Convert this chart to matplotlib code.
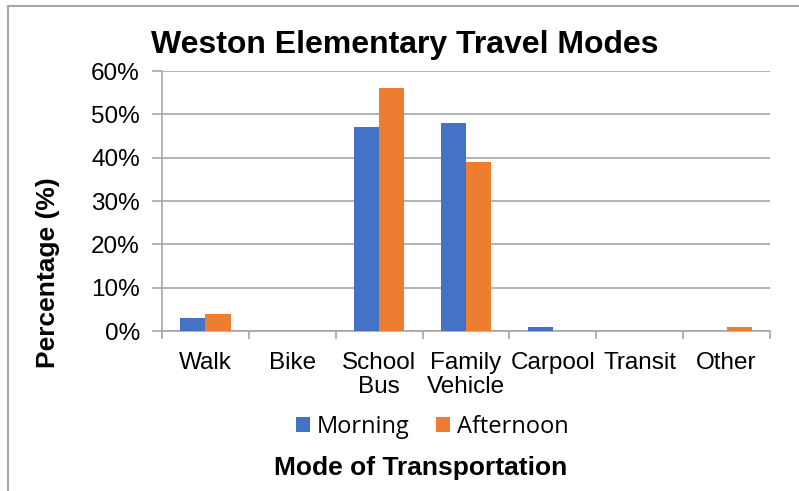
import numpy as np
import matplotlib.pyplot as plt
from matplotlib.lines import Line2D
from matplotlib.ticker import FuncFormatter

categories = ["Walk", "Bike", "School\nBus", "Family\nVehicle", "Carpool", "Transit", "Other"]
morning = [3, 0, 47, 48, 1, 0, 0]
afternoon = [4, 0, 56, 39, 0, 0, 1]

BLUE = "#4472C4"
ORANGE = "#ED7D31"
GRAY = "#A6A6A6"

plt.rcParams['font.family'] = ['Liberation Sans', 'DejaVu Sans']

fig = plt.figure(figsize=(7.99, 4.91), dpi=100)
ax = fig.add_axes([162/799, 1 - 331/491, 608/799, 260/491])

x = np.arange(len(categories))
w = 0.29
ax.bar(x - w/2, morning, w, color=BLUE, label="Morning", zorder=3)
ax.bar(x + w/2, afternoon, w, color=ORANGE, label="Afternoon", zorder=3)

ax.set_xlim(-0.5, len(categories) - 0.5)
ax.set_ylim(0, 60)
ax.set_yticks(range(0, 61, 10))
ax.yaxis.set_major_formatter(FuncFormatter(lambda v, p: "%d%%" % v))
ax.grid(axis="y", color=GRAY, linewidth=1.2, zorder=0)

# ticks between categories, labels centred on each group
ax.set_xticks(np.arange(-0.5, len(categories), 1))
ax.set_xticklabels([])
ax.set_xticks(x, minor=True)
ax.set_xticklabels(categories, minor=True, fontsize=17.5, linespacing=1.12)
ax.tick_params(axis="x", which="minor", length=0, pad=15)
ax.tick_params(axis="x", which="major", length=6, color=GRAY, width=1.2)
ax.tick_params(axis="y", length=7, color=GRAY, width=1.2, labelsize=17.5, pad=9)

for s in ["top", "right"]:
    ax.spines[s].set_visible(False)
for s in ["left", "bottom"]:
    ax.spines[s].set_color(GRAY)
    ax.spines[s].set_linewidth(1.2)

fig.text(405/799, 1 - 45/491, "Weston Elementary Travel Modes", ha="center", va="center",
         fontsize=23, fontweight="bold")
fig.text(48/799, 1 - 273/491, "Percentage (%)", ha="center", va="center", rotation=90,
         fontsize=19, fontweight="bold")
fig.text(421/799, 1 - 468/491, "Mode of Transportation", ha="center", va="center",
         fontsize=19, fontweight="bold")

fig.legend(loc="center", bbox_to_anchor=(432/799, 1 - 427/491), ncol=2, frameon=False,
           prop={"family": "Open Sans", "size": 17}, handlelength=0.6, handleheight=0.6,
           columnspacing=1.1, handletextpad=0.3)

# chart border (left and top only visible)
fig.add_artist(Line2D([8/799, 8/799], [0, 1 - 6/491], color=GRAY, linewidth=1.5))
fig.add_artist(Line2D([8/799, 1], [1 - 6/491, 1 - 6/491], color=GRAY, linewidth=1.5))

fig.savefig("out.png", dpi=100)
